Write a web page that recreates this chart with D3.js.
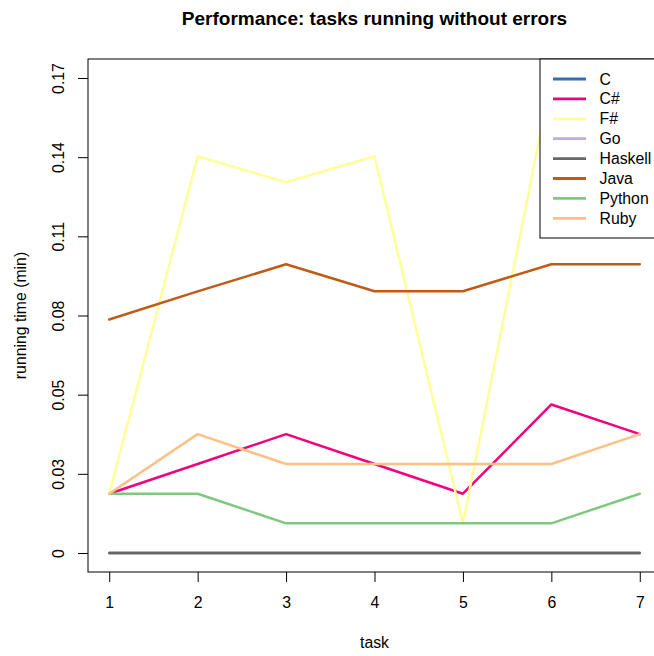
<!DOCTYPE html>
<html>
<head>
<meta charset="utf-8">
<script src="https://cdn.jsdelivr.net/npm/d3@7"></script>
<style>
  html, body { margin: 0; padding: 0; background: #ffffff; }
  svg { display: block; font-family: "Liberation Sans", Arial, Helvetica, sans-serif; }
</style>
</head>
<body>
<svg id="chart" width="654" height="656"></svg>
<script>
// ---- data ----
const tasks = [1, 2, 3, 4, 5, 6, 7];
const languages = ["C", "C#", "F#", "Go", "Haskell", "Java", "Python", "Ruby"];
const colors = ["#386CB0", "#F0027F", "#FFFF99", "#BEAED4", "#666666", "#BF5B17", "#7FC97F", "#FDC086"];
const valC       = [0, 0, 0, 0, 0, 0, 0];
const valCSharp  = [0.0206, 0.0309, 0.0413, 0.0309, 0.0206, 0.0516, 0.0413];
const valFSharp  = [0.0206, 0.1378, 0.1288, 0.1378, 0.0103, 0.165, 0.1378];
const valGo      = [0, 0, 0, 0, 0, 0, 0];
const valHaskell = [0, 0, 0, 0, 0, 0, 0];
const valJava    = [0.0811, 0.0909, 0.1003, 0.0909, 0.0909, 0.1003, 0.1003];
const valPython  = [0.0206, 0.0206, 0.0103, 0.0103, 0.0103, 0.0103, 0.0206];
const valRuby    = [0.0206, 0.0413, 0.0309, 0.0309, 0.0309, 0.0309, 0.0413];
const yTickValues = [0, 0.0275, 0.055, 0.0825, 0.11, 0.1375, 0.165];
const yTickLabels = ["0", "0.03", "0.05", "0.08", "0.11", "0.14", "0.17"];
const xTickLabels = ["1", "2", "3", "4", "5", "6", "7"];
const titleText = "Performance: tasks running without errors";
const xLabel = "task";
const yLabel = "running time (min)";

const seriesValues = [valC, valCSharp, valFSharp, valGo, valHaskell, valJava, valPython, valRuby];
const series = languages.map((name, i) => ({ name, color: colors[i], values: seriesValues[i] }));

(function () {
// ---- layout ----
const svg = d3.select("#chart");
const pL = 88, pR = 661, pT = 59, pB = 572;
const xmin = d3.min(tasks), xmax = d3.max(tasks);
const ymin = 0, ymax = d3.max(seriesValues.flat());
const xpad = (xmax - xmin) * 0.04, ypad = (ymax - ymin) * 0.04;
const x = d3.scaleLinear().domain([xmin - xpad, xmax + xpad]).range([pL, pR]);
const y = d3.scaleLinear().domain([ymin - ypad, ymax + ypad]).range([pB, pT]);

svg.append("rect").attr("width", 654).attr("height", 656).attr("fill", "#fff");

svg.append("clipPath").attr("id", "plotclip")
  .append("rect").attr("x", pL).attr("y", pT).attr("width", pR - pL).attr("height", pB - pT);

const line = d3.line().x((d, i) => x(tasks[i])).y(d => y(d));
const g = svg.append("g").attr("clip-path", "url(#plotclip)");
series.forEach(s => {
  g.append("path").datum(s.values)
    .attr("d", line)
    .attr("fill", "none")
    .attr("stroke", s.color)
    .attr("stroke-width", 2.5)
    .attr("stroke-linejoin", "round")
    .attr("stroke-linecap", "round");
});

const fs = 15.8;
const xAxis = d3.axisBottom(x).tickValues(tasks).tickFormat((d, i) => xTickLabels[i]).tickSize(10).tickPadding(15);
const xg = svg.append("g").attr("transform", `translate(0,${pB})`).call(xAxis);
xg.select(".domain").remove();
xg.selectAll("line").attr("stroke", "#000");
xg.selectAll("text").attr("font-size", fs).attr("fill", "#000").attr("font-family", "Liberation Sans, Arial, sans-serif")
  .attr("dy", null).attr("y", 30.5).attr("dominant-baseline", "central");

const yAxis = d3.axisLeft(y).tickValues(yTickValues).tickFormat((d, i) => yTickLabels[i]).tickSize(10);
const yg = svg.append("g").attr("transform", `translate(${pL},0)`).call(yAxis);
yg.select(".domain").remove();
yg.selectAll("line").attr("stroke", "#000");
yg.selectAll("text")
  .attr("font-size", fs).attr("fill", "#000").attr("font-family", "Liberation Sans, Arial, sans-serif")
  .attr("x", null).attr("dy", null)
  .attr("text-anchor", "middle").attr("dominant-baseline", "central")
  .attr("transform", "translate(-29.5,0) rotate(-90)");

svg.append("rect").attr("x", pL).attr("y", pT).attr("width", pR - pL).attr("height", pB - pT)
  .attr("fill", "none").attr("stroke", "#000").attr("stroke-width", 1);

svg.append("text").attr("x", (pL + pR) / 2).attr("y", 24.5)
  .attr("text-anchor", "middle").attr("font-size", 19).attr("font-weight", "bold").attr("fill", "#000")
  .text(titleText);
svg.append("text").attr("x", (pL + pR) / 2).attr("y", 642)
  .attr("text-anchor", "middle").attr("dominant-baseline", "central").attr("font-size", fs).attr("fill", "#000")
  .text(xLabel);
svg.append("text").attr("transform", `translate(20,${(pT + pB) / 2}) rotate(-90)`)
  .attr("text-anchor", "middle").attr("dominant-baseline", "central").attr("font-size", fs).attr("fill", "#000")
  .text(yLabel);

const lgX = 540, lgY = pT, lgW = 140, lgH = 179;
svg.append("rect").attr("x", lgX).attr("y", lgY).attr("width", lgW).attr("height", lgH)
  .attr("fill", "#fff").attr("stroke", "#000").attr("stroke-width", 1);
const lg = svg.append("g");
series.forEach((s, i) => {
  const yy = 79 + i * 19.9;
  lg.append("line").attr("x1", 553).attr("x2", 586).attr("y1", yy).attr("y2", yy)
    .attr("stroke", s.color).attr("stroke-width", 2.8);
  lg.append("text").attr("x", 599.5).attr("y", yy).attr("dominant-baseline", "central")
    .attr("font-size", fs).attr("fill", "#000").text(s.name);
});
})();
</script>
</body>
</html>
